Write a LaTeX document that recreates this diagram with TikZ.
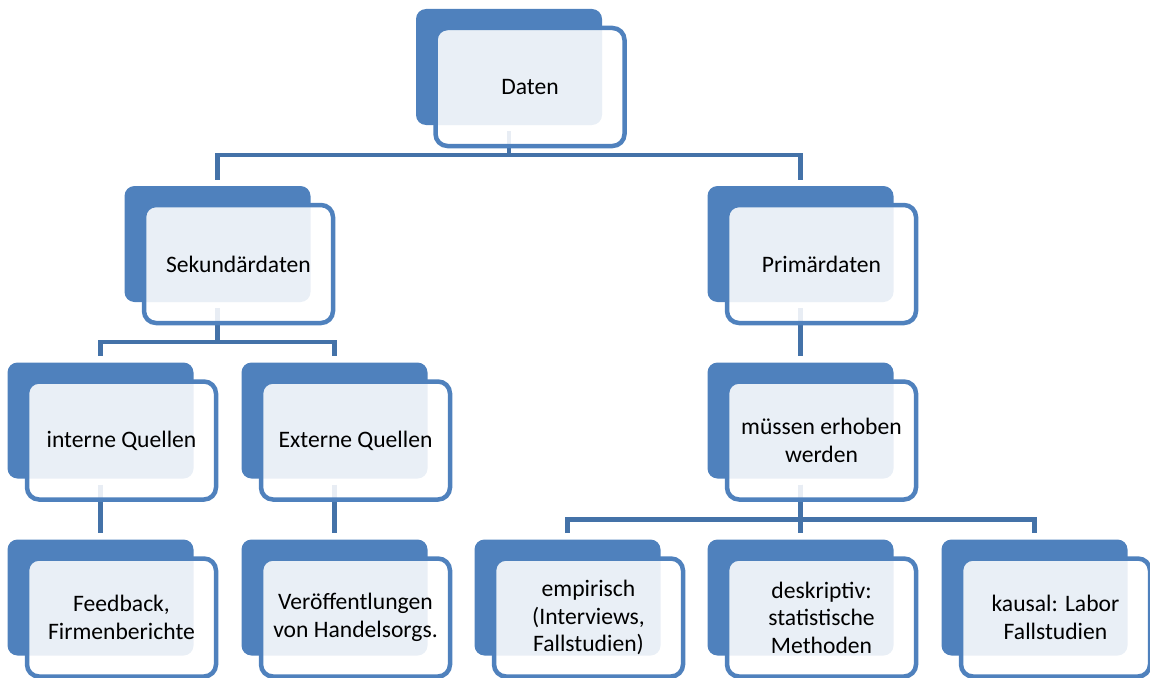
\documentclass[tikz,border=0pt]{standalone}
\usepackage{fontspec}
\setmainfont{Carlito}
\usetikzlibrary{positioning,backgrounds}
\definecolor{boxblue}{RGB}{79,129,189}
\definecolor{linkblue}{RGB}{68,114,168}

\begin{document}
\begin{tikzpicture}[x=1pt,y=-1pt,
    back/.style={rectangle,rounded corners=10pt,fill=boxblue,inner sep=0pt,
      minimum width=186pt,minimum height=116pt},
    front/.style={rectangle,rounded corners=12pt,draw=boxblue,line width=4.5pt,
      fill=white,fill opacity=0.88,text opacity=1,align=center,
      minimum width=189pt,minimum height=118pt,
      font=\fontsize{23.6pt}{27.5pt}\selectfont},
    link/.style={draw=linkblue,line width=4.5pt,shorten <=6pt,shorten >=6pt}]
  \useasboundingbox (0,0) rectangle (1150,677);

  % top
  \node[back] (d0) at (509,67) {};
  \node[front] (d) at ([shift={(21,20)}]d0) {Daten};

  % second row
  \node[back] (s0) at (217.5,244) {};
  \node[front] (s) at ([shift={(21,20)}]s0) {Sekundärdaten};
  \node[back] (p0) at (800.5,244) {};
  \node[front] (p) at ([shift={(21,20)}]p0) {Primärdaten};

  % third row
  \node[back] (i0) at (100.5,420.5) {};
  \node[front] (i) at ([shift={(21,20)}]i0) {interne Quellen};
  \node[back] (e0) at (334.5,420.5) {};
  \node[front] (e) at ([shift={(21,20)}]e0) {Externe Quellen};
  \node[back] (m0) at (800.5,420.5) {};
  \node[front] (m) at ([shift={(21,20)}]m0) {müssen erhoben\\werden};

  % bottom row
  \node[back] (f0) at (100.5,597.5) {};
  \node[front] (f) at ([shift={(21,20)}]f0) {Feedback,\\Firmenberichte};
  \node[back] (v0) at (334.5,597.5) {};
  \node[front] (v) at ([shift={(21,20)}]v0) {Veröffentlungen\\von Handelsorgs.};
  \node[back] (em0) at (567.5,597.5) {};
  \node[front] (em) at ([shift={(21,20)}]em0) {empirisch\\(Interviews,\\Fallstudien)};
  \node[back] (de0) at (800.5,597.5) {};
  \node[front] (de) at ([shift={(21,20)}]de0) {deskriptiv:\\statistische\\Methoden};
  \node[back] (k0) at (1034.5,597.5) {};
  \node[front] (k) at ([shift={(21,20)}]k0) {kausal: Labor\\Fallstudien};

  % connectors behind the boxes
  \begin{pgfonlayer}{background}
    \draw[link] (d0.south) -- ++(0,30) -| (s0.north);
    \draw[link] (d0.south) -- ++(0,30) -| (p0.north);
    \draw[link] (s0.south) -- ++(0,40) -| (i0.north);
    \draw[link] (s0.south) -- ++(0,40) -| (e0.north);
    \draw[link] (p0) -- (m0);
    \draw[link] (i0) -- (f0);
    \draw[link] (e0) -- (v0);
    \draw[link] (m0.south) -- ++(0,41) -| (em0.north);
    \draw[link] (m0.south) -- ++(0,41) -| (de0.north);
    \draw[link] (m0.south) -- ++(0,41) -| (k0.north);
  \end{pgfonlayer}
\end{tikzpicture}
\end{document}
